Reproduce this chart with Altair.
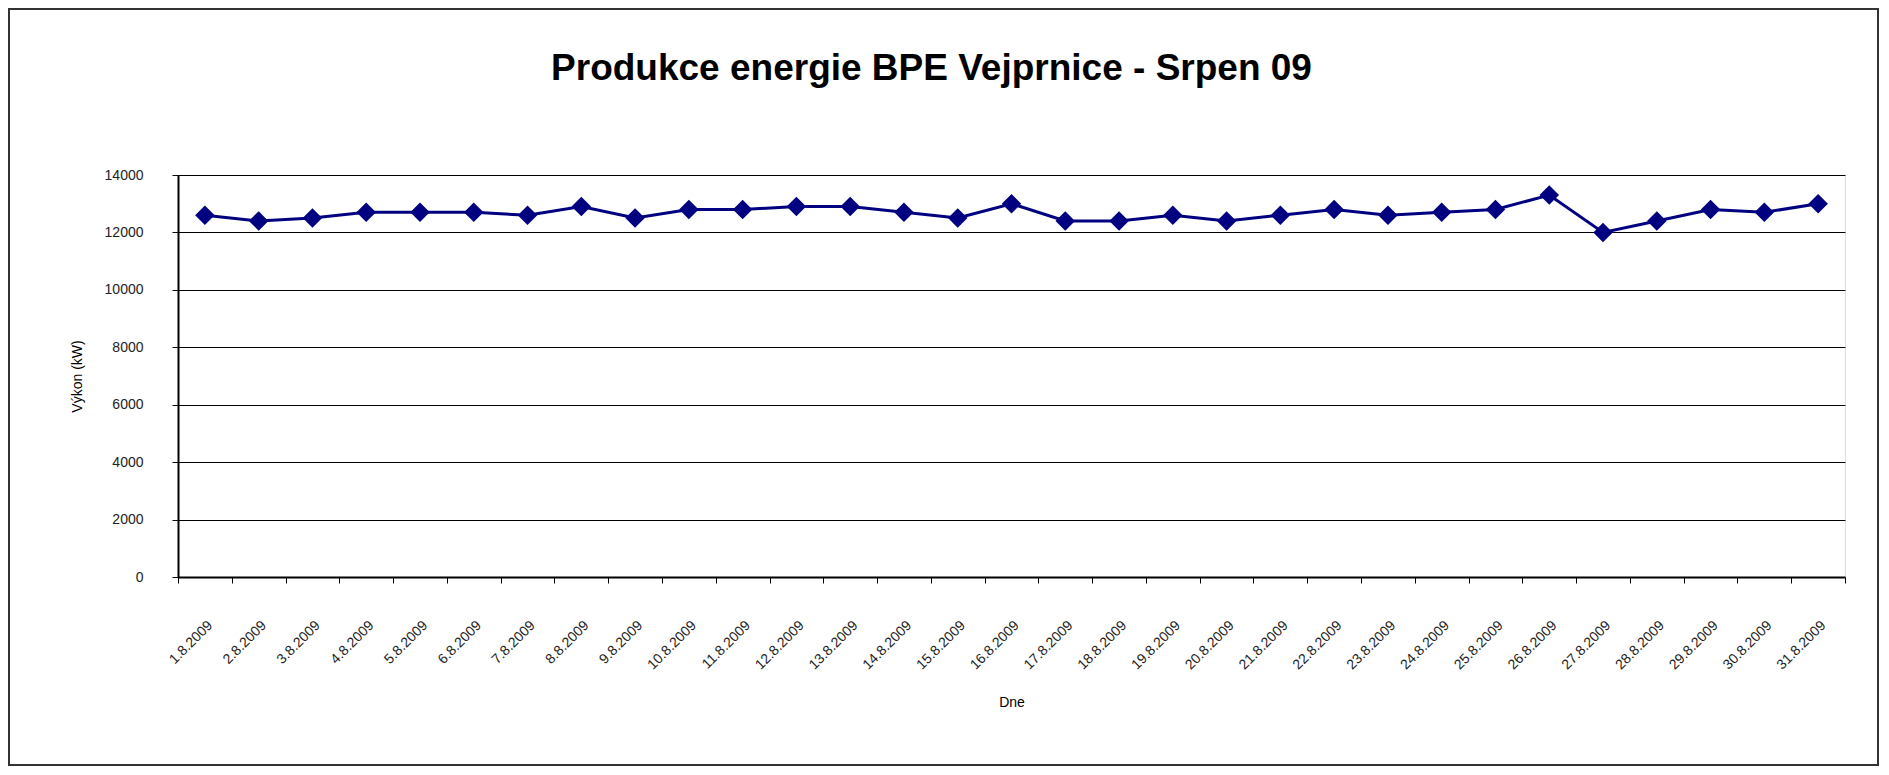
import altair as alt
import pandas as pd

dates = ["1.8.2009", "2.8.2009", "3.8.2009", "4.8.2009", "5.8.2009", "6.8.2009",
         "7.8.2009", "8.8.2009", "9.8.2009", "10.8.2009", "11.8.2009", "12.8.2009",
         "13.8.2009", "14.8.2009", "15.8.2009", "16.8.2009", "17.8.2009", "18.8.2009",
         "19.8.2009", "20.8.2009", "21.8.2009", "22.8.2009", "23.8.2009", "24.8.2009",
         "25.8.2009", "26.8.2009", "27.8.2009", "28.8.2009", "29.8.2009", "30.8.2009",
         "31.8.2009"]
vykon = [12600, 12400, 12500, 12700, 12700, 12700, 12600, 12900, 12500, 12800,
         12800, 12900, 12900, 12700, 12500, 13000, 12400, 12400, 12600, 12400,
         12600, 12800, 12600, 12700, 12800, 13300, 12000, 12400, 12800, 12700,
         13000]
y_ticks = [0, 2000, 4000, 6000, 8000, 10000, 12000, 14000]

df = pd.DataFrame({"Dne": dates, "Vykon": vykon})

FONT = "Liberation Sans"
W, H = 1667, 402

x_enc = alt.X(
    "Dne:N", sort=None, bandPosition=0.5,
    scale=alt.Scale(type="band", paddingInner=0, paddingOuter=0),
    axis=alt.Axis(
        title="Dne", labelAngle=-45, labelFontSize=14, labelFont=FONT,
        labelColor="#222", labelPadding=35, tickBand="extent", tickSize=6,
        tickColor="black", domainColor="black", domainWidth=2,
        titleFont=FONT, titleFontSize=14, titleFontWeight="normal",
        titleColor="black", titlePadding=24, grid=False,
    ),
)
y_enc = alt.Y(
    "Vykon:Q",
    scale=alt.Scale(domain=[0, 14000], nice=False),
    axis=alt.Axis(
        title="Výkon (kW)", values=y_ticks, format="d", labelFontSize=14,
        labelFont=FONT, labelColor="#222", labelPadding=29, tickSize=6,
        tickColor="black", domainColor="black", domainWidth=2,
        grid=True, gridColor="black", gridWidth=1.2,
        titleFont=FONT, titleFontSize=14, titleFontWeight="normal",
        titleColor="black", titlePadding=20,
    ),
)

line = alt.Chart(df).mark_line(color="#000080", strokeWidth=3).encode(x=x_enc, y=y_enc)
pts = alt.Chart(df).mark_point(
    shape="diamond", filled=True, size=380, color="#000080", opacity=1
).encode(x=x_enc, y=y_enc)

frame_df = pd.DataFrame({"k": [0]})
frame = alt.Chart(frame_df).mark_rect(
    filled=False, stroke="#333333", strokeWidth=2
).encode(
    x=alt.value(-169), x2=alt.value(W + 33),
    y=alt.value(-166), y2=alt.value(H + 188),
)

chart = alt.layer(frame, line, pts).properties(
    width=W, height=H,
    title=alt.TitleParams(
        "Produkce energie BPE Vejprnice - Srpen 09",
        font=FONT, fontSize=37, fontWeight="bold", color="black",
        anchor="middle", dx=-80, offset=-109, baseline="alphabetic",
    ),
    autosize=alt.AutoSizeParams(type="none"),
    padding={"left": 170, "top": 167, "right": 35, "bottom": 190},
).configure_view(
    stroke="#808080", strokeWidth=2
).configure(background="white")

chart.save("out.html", embed_options={"renderer": "svg", "actions": False})
